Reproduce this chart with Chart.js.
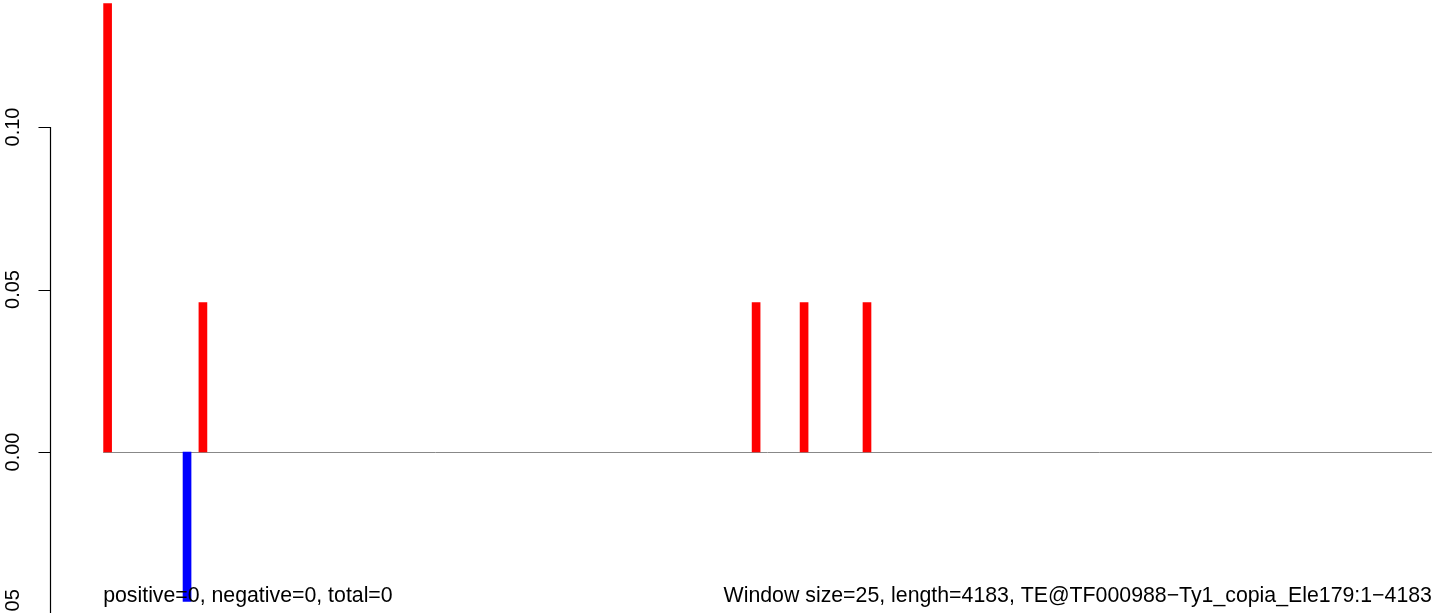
<!DOCTYPE html>
<html>
<head>
<meta charset="utf-8">
<script src="https://cdn.jsdelivr.net/npm/chart.js@4"></script>
<style>
  html, body { margin: 0; padding: 0; background: #fff; }
  #wrap { width: 1444px; height: 613px; position: relative; }
</style>
</head>
<body>
<div id="wrap"><canvas id="scoreChart"></canvas></div>
<script>
// window positions (bp) and their scores
var windowPos = [15, 265, 315, 2056, 2207, 2405];
var scores = [0.138, -0.046, 0.046, 0.046, 0.046, 0.046];
var yTicks = [-0.05, 0.00, 0.05, 0.10];
var yTickLabels = ['\u22120.05', '0.00', '0.05', '0.10'];
var seqStart = 1;
var seqEnd = 4183;
var leftNote = 'positive=0, negative=0, total=0';
var rightNote = 'Window size=25, length=4183, TE@TF000988\u2212Ty1_copia_Ele179:1\u22124183';

var points = windowPos.map(function (p, i) { return { x: p, y: scores[i] }; });

// zero line, axis and notes, drawn from the chart scales
var rAxis = {
  id: 'rAxis',
  beforeDatasetsDraw: function (chart) {
    var ctx = chart.ctx, xs = chart.scales.x, ys = chart.scales.y;
    var y0 = Math.round(ys.getPixelForValue(0)) + 0.5;
    ctx.save();
    ctx.strokeStyle = '#888888';
    ctx.lineWidth = 1;
    ctx.beginPath();
    ctx.moveTo(xs.getPixelForValue(seqStart), y0);
    ctx.lineTo(xs.getPixelForValue(seqEnd), y0);
    ctx.stroke();
    ctx.restore();
  },
  afterDraw: function (chart) {
    var ctx = chart.ctx, xs = chart.scales.x, ys = chart.scales.y;
    var ax = 50.5;
    ctx.save();
    ctx.strokeStyle = '#000';
    ctx.lineWidth = 1.2;
    ctx.beginPath();
    ctx.moveTo(ax, ys.getPixelForValue(yTicks[yTicks.length - 1]));
    ctx.lineTo(ax, ys.getPixelForValue(yTicks[0]));
    yTicks.forEach(function (t) {
      var py = Math.round(ys.getPixelForValue(t)) + 0.5;
      ctx.moveTo(ax, py);
      ctx.lineTo(ax - 12, py);
    });
    ctx.stroke();

    ctx.fillStyle = '#000';
    ctx.font = '20px "Liberation Sans", Arial, sans-serif';
    yTicks.forEach(function (t, i) {
      var py = ys.getPixelForValue(t);
      ctx.save();
      ctx.translate(19, py);
      ctx.rotate(-Math.PI / 2);
      ctx.textAlign = 'center';
      ctx.textBaseline = 'alphabetic';
      ctx.fillText(yTickLabels[i], 0, 0);
      ctx.restore();
    });

    ctx.font = '21.3px "Liberation Sans", Arial, sans-serif';
    ctx.textBaseline = 'alphabetic';
    ctx.textAlign = 'left';
    ctx.fillText(leftNote, xs.getPixelForValue(seqStart), 602);
    ctx.textAlign = 'right';
    ctx.fillText(rightNote, xs.getPixelForValue(seqEnd), 602);
    ctx.restore();
  }
};

new Chart(document.getElementById('scoreChart'), {
  type: 'bar',
  data: {
    datasets: [{
      label: 'score',
      data: points,
      backgroundColor: function (c) {
        var v = c.raw ? c.raw.y : 0;
        return v < 0 ? '#0000ff' : '#ff0000';
      },
      borderWidth: 0,
      barThickness: 8
    }]
  },
  options: {
    responsive: true,
    maintainAspectRatio: false,
    animation: false,
    layout: { padding: { left: 50, right: 0, top: 0, bottom: 0 } },
    plugins: { legend: { display: false }, tooltip: { enabled: false } },
    scales: {
      x: { type: 'linear', display: false, offset: false, min: -166.3, max: 4221 },
      y: { display: false, min: -0.04954, max: 0.13908 }
    }
  },
  plugins: [rAxis]
});
</script>
</body>
</html>
